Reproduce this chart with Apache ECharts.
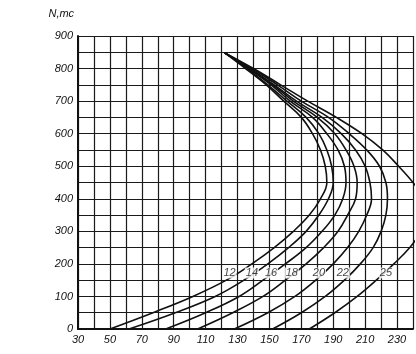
<!DOCTYPE html>
<html>
<head>
<meta charset="utf-8">
<script src="https://cdn.jsdelivr.net/npm/echarts@6/dist/echarts.min.js"></script>
<style>
  html, body { margin: 0; padding: 0; background: #fff; }
  #chart { width: 416px; height: 354px; }
</style>
</head>
<body>
<div id="chart"></div>
<script>
// curves N(x) for each parameter value, points as [x, N]
var curveNames = ['12', '14', '16', '18', '20', '22', '25'];
var c12 = [[50,0],[77,50],[102,100],[123,150],[139,200],[153,250],[165,300],[175,350],[182,400],[186,450],[185,500],[182,550],[177,600],[170,650],[159,700],[148,750],[135,800],[122,848]];
var c14 = [[62,0],[91,50],[116,100],[134,150],[149,200],[162,250],[173,300],[181,350],[187,400],[190,450],[189,500],[186,550],[181,600],[173,650],[161,700],[149,750],[136,800],[122,848]];
var c16 = [[85,0],[110,50],[131,100],[146,150],[160,200],[173,250],[183,300],[191,350],[196,400],[198,450],[197,500],[193,550],[186,600],[177,650],[163,700],[151,750],[137,800],[122,848]];
var c18 = [[105,0],[127,50],[146,100],[160,150],[173,200],[184,250],[193,300],[199,350],[204,400],[205,450],[203,500],[198,550],[191,600],[180,650],[165,700],[152,750],[137,800],[122,848]];
var c20 = [[128,0],[149,50],[166,100],[179,150],[190,200],[199,250],[206,300],[211,350],[214,400],[213,450],[210,500],[204,550],[195,600],[183,650],[167,700],[153,750],[138,800],[122,848]];
var c22 = [[152,0],[170,50],[185,100],[197,150],[207,200],[215,250],[220,300],[223,350],[224,400],[223,450],[219,500],[211,550],[200,600],[187,650],[170,700],[155,750],[139,800],[122,848]];
var c25 = [[175,0],[191,50],[205,100],[217,150],[228,200],[238,250],[245,300],[248,350],[247,400],[240,450],[231,500],[221,550],[208,600],[192,650],[174,700],[157,750],[140,800],[122,848]];
var curves = [c12, c14, c16, c18, c20, c22, c25];

// where the curve numbers are written
var labelX = [125, 139, 151, 164, 181, 196, 223];
var labelY = [172, 172, 172, 172, 172, 172, 172];

var xTicks = [30, 50, 70, 90, 110, 130, 150, 170, 190, 210, 230];
var yTicks = [0, 100, 200, 300, 400, 500, 600, 700, 800, 900];

var chart = echarts.init(document.getElementById('chart'));
var labelFont = { color: '#111', fontStyle: 'italic', fontSize: 11, fontFamily: 'Liberation Sans' };

var series = curves.map(function (pts, i) {
  return {
    name: curveNames[i],
    type: 'line',
    data: pts,
    smooth: 0.4,
    symbol: 'none',
    lineStyle: { color: '#111', width: 1.6 },
    z: 3
  };
});
series.push({
  type: 'scatter',
  data: labelX.map(function (x, i) { return [x, labelY[i], curveNames[i]]; }),
  symbolSize: 1,
  itemStyle: { color: 'rgba(0,0,0,0)' },
  label: {
    show: true,
    position: 'inside',
    formatter: function (p) { return p.value[2]; },
    backgroundColor: '#fff',
    padding: [0, 1],
    color: '#111',
    fontStyle: 'italic',
    fontSize: 11,
    fontFamily: 'Liberation Sans'
  },
  z: 5
});

chart.setOption({
  animation: false,
  grid: { left: 78, top: 36, bottom: 25, width: 341 },
  xAxis: {
    type: 'value',
    min: 30,
    max: 240,
    interval: 10,
    axisLine: { show: true, onZero: false, lineStyle: { color: '#111', width: 2 } },
    axisTick: { show: false },
    axisLabel: Object.assign({
      margin: 5,
      formatter: function (v) { return xTicks.indexOf(v) >= 0 ? String(v) : ''; }
    }, labelFont),
    splitLine: { show: true, lineStyle: { color: '#1a1a1a', width: 1.2 } }
  },
  yAxis: {
    type: 'value',
    min: 0,
    max: 900,
    interval: 50,
    name: 'N,тс',
    nameLocation: 'end',
    nameGap: 22,
    nameTextStyle: Object.assign({ align: 'right', verticalAlign: 'middle', padding: [0, 4, 0, 0] }, labelFont),
    axisLine: { show: true, lineStyle: { color: '#111', width: 2 } },
    axisTick: { show: false },
    axisLabel: Object.assign({
      margin: 5,
      formatter: function (v) { return yTicks.indexOf(v) >= 0 ? String(v) : ''; }
    }, labelFont),
    splitLine: { show: true, lineStyle: { color: '#1a1a1a', width: 1.2 } }
  },
  series: series
});

// the vertical axis runs on above the 900 line
var top = chart.convertToPixel({ gridIndex: 0 }, [30, 900]);
chart.setOption({
  graphic: [{
    type: 'line',
    shape: { x1: top[0], y1: top[1], x2: top[0], y2: top[1] - 26 },
    style: { stroke: '#111', lineWidth: 2 }
  }]
});
</script>
</body>
</html>
